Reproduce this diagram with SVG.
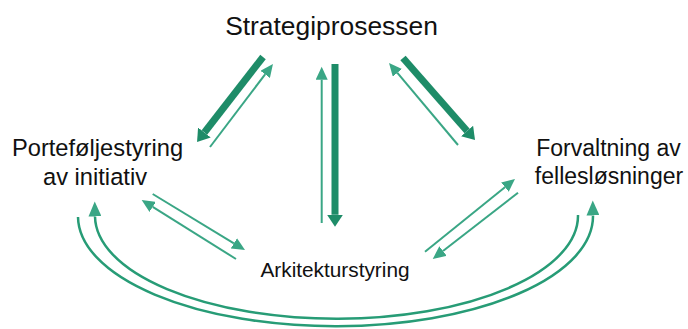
<svg xmlns="http://www.w3.org/2000/svg" width="688" height="329" viewBox="0 0 688 329">
<style>
  text { font-family: "Liberation Sans", Arial, sans-serif; fill: #111; text-anchor: middle; }
  .thin { fill: none; stroke: #3aa685; stroke-width: 2; marker-end: url(#headThin); }
  .arc { fill: none; stroke: #279c76; stroke-width: 2.5; }
  .arcA { marker-end: url(#headArc); }
  .thick { fill: none; stroke: #1e8c68; stroke-width: 7; marker-end: url(#headThick); }
</style>
<defs>
  <marker id="headThin" markerUnits="userSpaceOnUse" markerWidth="14" markerHeight="12" refX="0" refY="6" orient="auto" viewBox="0 0 14 12">
    <path d="M0,0 L13,6 L0,12 z" fill="#3aa685"/>
  </marker>
  <marker id="headArc" markerUnits="userSpaceOnUse" markerWidth="16" markerHeight="13" refX="0" refY="6.5" orient="auto" viewBox="0 0 16 13">
    <path d="M0,0 L15,6.5 L0,13 z" fill="#3aa685"/>
  </marker>
  <marker id="headThick" markerUnits="userSpaceOnUse" markerWidth="13" markerHeight="16" refX="0" refY="8" orient="auto" viewBox="0 0 13 16">
    <path d="M0,0 L12,8 L0,16 z" fill="#1e8c68"/>
  </marker>
</defs>

<g id="connectors">
  <!-- Strategi <-> Portefolje -->
  <line class="thick" x1="263" y1="57" x2="204.4" y2="132.5"/>
  <line class="thin" x1="210" y1="147" x2="265.1" y2="74.4"/>
  <!-- Strategi <-> Arkitektur -->
  <line class="thin" x1="321.7" y1="223" x2="321.7" y2="79.7"/>
  <line class="thick" x1="335" y1="64" x2="335" y2="214.7"/>
  <!-- Strategi <-> Forvaltning -->
  <line class="thick" x1="403" y1="58" x2="467.1" y2="131"/>
  <line class="thin" x1="458" y1="145" x2="397.4" y2="72.9"/>
  <!-- Portefolje <-> Arkitektur -->
  <line class="thin" x1="152.7" y1="194" x2="233.9" y2="243.3"/>
  <line class="thin" x1="236" y1="259" x2="152.7" y2="206.9"/>
  <!-- Forvaltning <-> Arkitektur -->
  <line class="thin" x1="425" y1="251.7" x2="504.9" y2="187.2"/>
  <line class="thin" x1="518" y1="192.7" x2="443" y2="251"/>
  <!-- Portefolje <-> Forvaltning arcs -->
  <path class="arc arcA" d="M 578 215 A 241.5 103 0 0 1 95 216.5"/>
  <path class="arc arcA" d="M 78 217 A 257.5 110 0 0 0 593 215.5"/>
</g>

<g id="node-strategi">
  <text x="331.5" y="35" font-size="26.4">Strategiprosessen</text>
</g>
<g id="node-portefolje">
  <text x="97.5" y="156" font-size="23.7">Porteføljestyring</text>
  <text x="95" y="185" font-size="23.7">av initiativ</text>
</g>
<g id="node-forvaltning">
  <text x="608.5" y="155.5" font-size="23">Forvaltning av</text>
  <text x="609" y="183.5" font-size="23">fellesløsninger</text>
</g>
<g id="node-arkitektur">
  <text x="335" y="276.5" font-size="20.8">Arkitekturstyring</text>
</g>
</svg>
